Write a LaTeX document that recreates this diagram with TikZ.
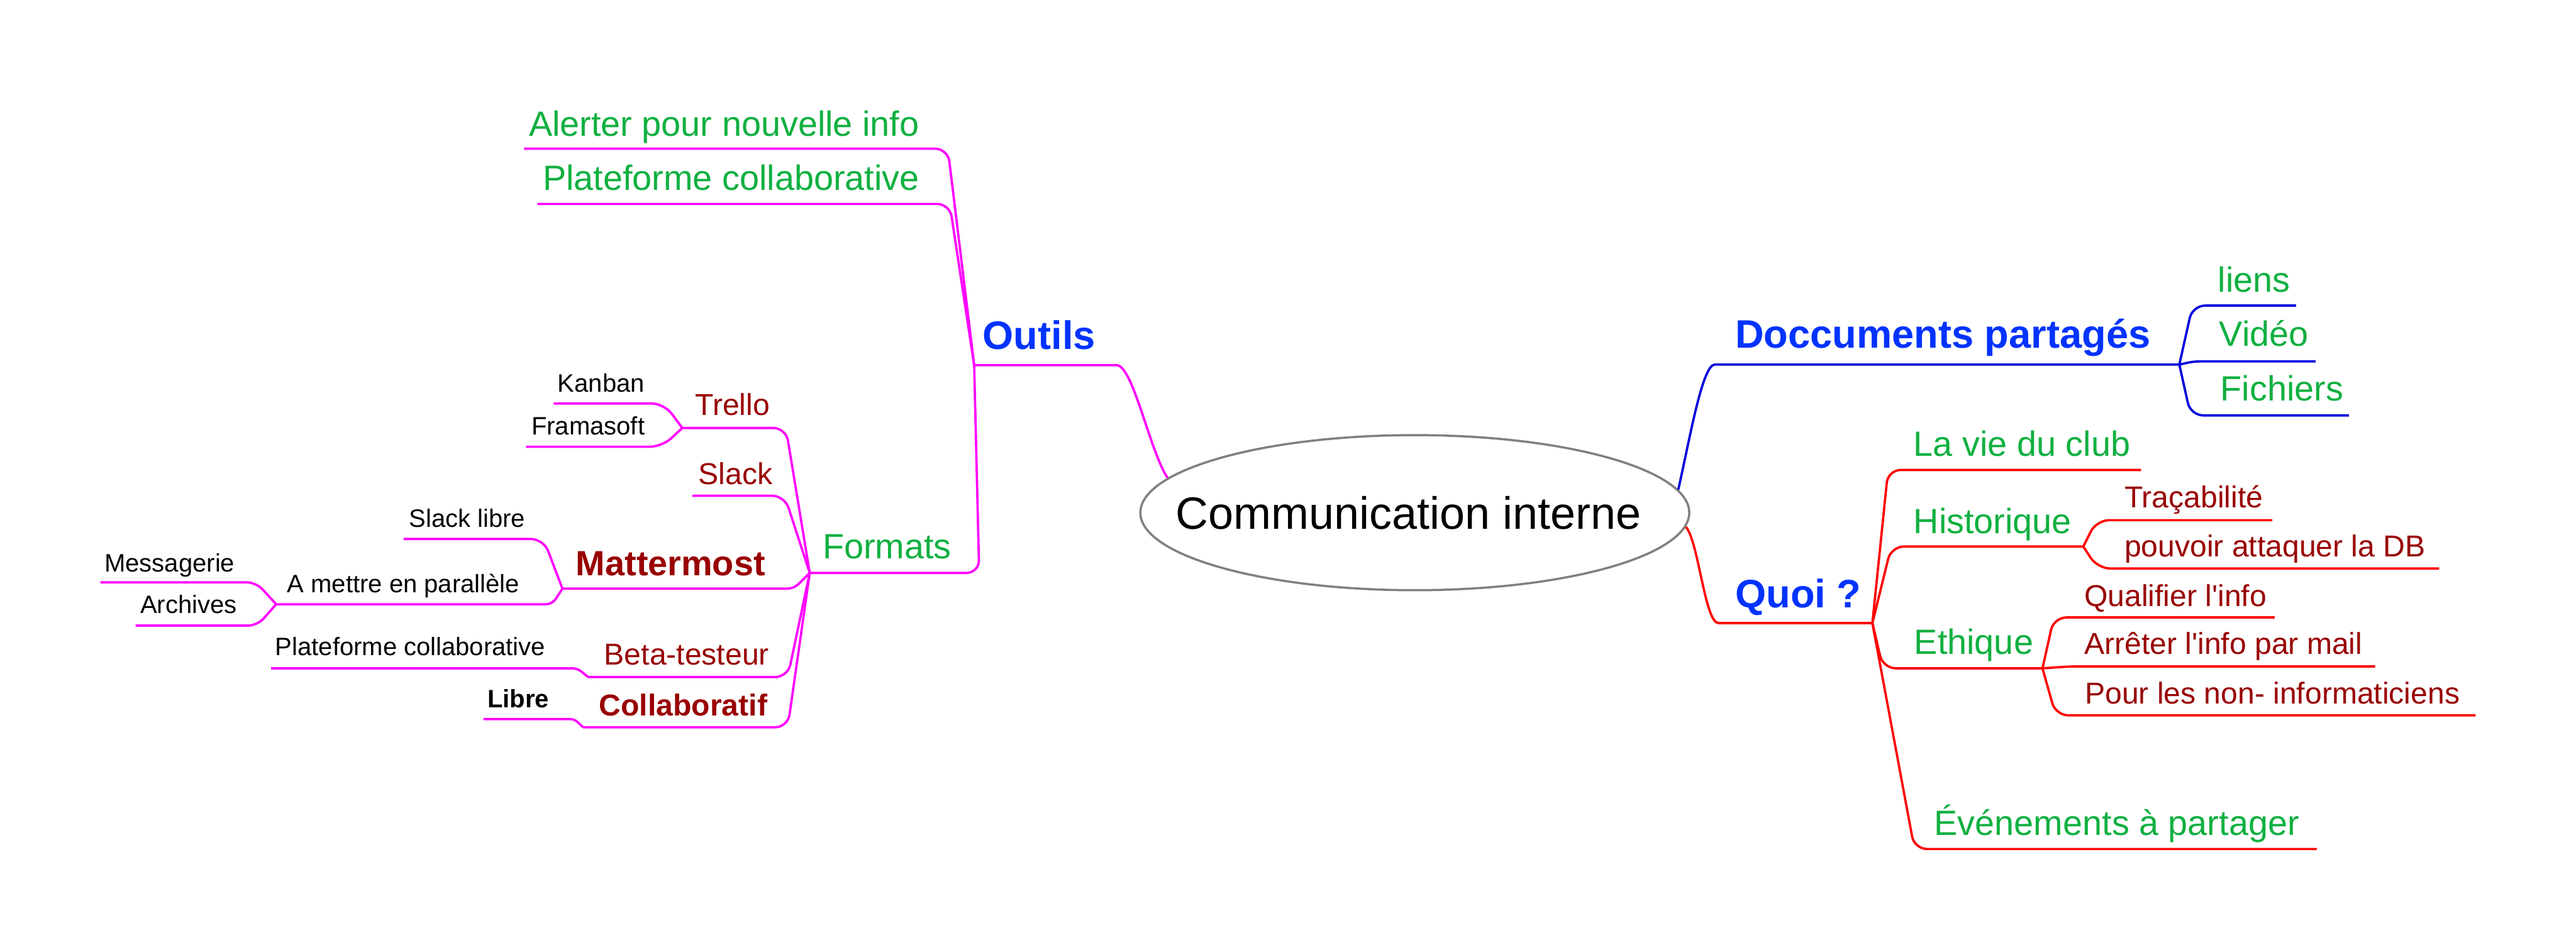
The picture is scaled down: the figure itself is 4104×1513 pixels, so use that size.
\documentclass[tikz,border=0pt]{standalone}
\usepackage{fontspec}
\setmainfont{Liberation Sans}[Ligatures=TeXOff]
\usetikzlibrary{shapes.geometric}
\definecolor{cmag}{HTML}{FF00FF}
\definecolor{cblue}{HTML}{0000DD}
\definecolor{cred}{HTML}{FF0000}
\definecolor{tgreen}{HTML}{10B040}
\definecolor{tdred}{HTML}{990000}
\definecolor{tblue}{HTML}{0033FF}
\definecolor{cgray}{HTML}{808080}
\tikzset{
  lbl/.style={inner sep=0pt, anchor=base west},
  fbig/.style={font=\fontsize{18}{20}\selectfont\bfseries, text=tblue},
  fgreen/.style={font=\fontsize{15.9}{18}\selectfont, text=tgreen},
  fred/.style={font=\fontsize{13.7}{16}\selectfont, text=tdred},
  fredb/.style={font=\fontsize{13.7}{16}\selectfont\bfseries, text=tdred},
  fmm/.style={font=\fontsize{15.9}{18}\selectfont\bfseries, text=tdred},
  fblack/.style={font=\fontsize{11.4}{13}\selectfont, text=black},
  fblackb/.style={font=\fontsize{11.4}{13}\selectfont\bfseries, text=black},
  conn/.style={line width=1.05pt, rounded corners=0.2cm, line join=round},
  mag/.style={conn, draw=cmag},
  blu/.style={conn, draw=cblue},
  rd/.style={conn, draw=cred},
}
\begin{document}
\begin{tikzpicture}[x=0.01cm,y=-0.01cm]
\fill[white] (0,0) rectangle (4104,1513);
\useasboundingbox (0,0) rectangle (4104,1513);

% central
\node[draw=cgray, line width=1pt, ellipse, fill=white, minimum width=8.74cm, minimum height=2.47cm, inner sep=0pt] (root) at (2254,817) {};
\node[inner sep=0pt, font=\fontsize{20.5}{24}\selectfont] (roottxt) at (2244,817) {Communication interne};

% ---------- left tree (magenta)
\coordinate (outJ) at (1552,582);
\coordinate (outB) at (1759,582);
\coordinate (outC1) at (1805,582);
\coordinate (outC2) at (1832,720);
\node[lbl,fbig] (outils) at (1565,557) {Outils};
\draw[mag] (outJ) -- (outB) .. controls (outC1) and (outC2) .. (root.172);

\node[lbl,fgreen] (alerter) at (842,217) {Alerter pour nouvelle info};
\coordinate (alA) at (835,237); \coordinate (alB) at (1510,237);
\draw[mag] (alA) -- (alB) -- (outJ);

\node[lbl,fgreen] (plat1) at (864,303) {Plateforme collaborative};
\coordinate (plA) at (856,325); \coordinate (plB) at (1513,325);
\draw[mag] (plA) -- (plB) -- (outJ);

\node[lbl,fgreen] (formats) at (1310,890) {Formats};
\coordinate (formJ) at (1290,913); \coordinate (formB) at (1560,913);
\draw[mag] (formJ) -- (formB) -- (outJ);

\node[lbl,fred] (trello) at (1107,662) {Trello};
\coordinate (trJ) at (1087,682); \coordinate (trB) at (1252,682);
\draw[mag] (trJ) -- (trB) -- (formJ);

\node[lbl,fblack] (kanban) at (888,625) {Kanban};
\coordinate (kaA) at (882,643); \coordinate (kaB) at (1058,643);
\draw[mag] (kaA) -- (kaB) -- (trJ);

\node[lbl,fblack] (framasoft) at (846,693) {Framasoft};
\coordinate (frA) at (838,712); \coordinate (frB) at (1055,712);
\draw[mag] (frA) -- (frB) -- (trJ);

\node[lbl,fred] (slack) at (1112,772) {Slack};
\coordinate (slA) at (1103,790); \coordinate (slB) at (1250,790);
\draw[mag] (slA) -- (slB) -- (formJ);

\node[lbl,fmm] (mattermost) at (917,917) {Mattermost};
\coordinate (mmJ) at (896,938); \coordinate (mmB) at (1265,938);
\draw[mag, rounded corners=0.1cm] (mmJ) -- (mmB) -- (formJ);

\node[lbl,fblack] (slacklibre) at (651,840) {Slack libre};
\coordinate (sgA) at (643,859); \coordinate (sgB) at (866,859);
\draw[mag] (sgA) -- (sgB) -- (mmJ);

\node[lbl,fblack] (amettre) at (457,944) {A mettre en parallèle};
\coordinate (amJ) at (440,963); \coordinate (amB) at (880,963);
\draw[mag, rounded corners=0.1cm] (amJ) -- (amB) -- (mmJ);

\node[lbl,fblack] (messagerie) at (166,911) {Messagerie};
\coordinate (meA) at (160,928); \coordinate (meB) at (408,928);
\draw[mag, rounded corners=0.15cm] (meA) -- (meB) -- (amJ);

\node[lbl,fblack] (archives) at (223,977) {Archives};
\coordinate (arA) at (216,997); \coordinate (arB) at (410,997);
\draw[mag, rounded corners=0.15cm] (arA) -- (arB) -- (amJ);

\node[lbl,fred] (beta) at (962,1060) {Beta-testeur};
\coordinate (btJ) at (937,1079); \coordinate (btB) at (1255,1079);
\draw[mag] (btJ) -- (btB) -- (formJ);

\node[lbl,fblack] (plat2) at (438,1045) {Plateforme collaborative};
\coordinate (p2A) at (432,1065); \coordinate (p2B) at (920,1065);
\draw[mag, rounded corners=0.08cm] (p2A) -- (p2B) -- (btJ);

\node[lbl,fredb] (collab) at (954,1141) {Collaboratif};
\coordinate (coJ) at (929,1159); \coordinate (coB) at (1255,1159);
\draw[mag] (coJ) -- (coB) -- (formJ);

\node[lbl,fblackb] (libre) at (776,1128) {Libre};
\coordinate (liA) at (770,1146); \coordinate (liB) at (915,1146);
\draw[mag, rounded corners=0.06cm] (liA) -- (liB) -- (coJ);

% ---------- right tree: documents (blue)
\node[lbl,fbig] (doc) at (2764,555) {Doccuments partagés};
\coordinate (docJ) at (3472,581); \coordinate (docB) at (2752,581);
\coordinate (docC1) at (2712,581); \coordinate (docC2) at (2692,700);
\draw[blu] (docJ) -- (docB) .. controls (docC1) and (docC2) .. (root.5);

\node[lbl,fgreen] (liens) at (3533,465) {liens};
\coordinate (lnA) at (3658,487); \coordinate (lnB) at (3493,487);
\draw[blu] (lnA) -- (lnB) -- (docJ);

\node[lbl,fgreen] (video) at (3535,552) {Vidéo};
\coordinate (viA) at (3689,576); \coordinate (viB) at (3495,576);
\draw[blu, rounded corners=0.08cm] (viA) -- (viB) -- (docJ);

\node[lbl,fgreen] (fichiers) at (3537,639) {Fichiers};
\coordinate (fiA) at (3742,662); \coordinate (fiB) at (3490,662);
\draw[blu] (fiA) -- (fiB) -- (docJ);

% ---------- right tree: quoi (red)
\node[lbl,fbig] (quoi) at (2764,968) {Quoi ?};
\coordinate (quJ) at (2983,993); \coordinate (quB) at (2758,993);
\coordinate (quC1) at (2716,993); \coordinate (quC2) at (2706,862);
\draw[rd] (quJ) -- (quB) .. controls (quC1) and (quC2) .. (root.-3);

\node[lbl,fgreen] (vie) at (3048,727) {La vie du club};
\coordinate (vcA) at (3411,749); \coordinate (vcB) at (3008,749);
\draw[rd] (vcA) -- (vcB) -- (quJ);

\node[lbl,fgreen] (hist) at (3048,850) {Historique};
\coordinate (hiJ) at (3319,871); \coordinate (hiB) at (3013,871);
\draw[rd] (hiJ) -- (hiB) -- (quJ);

\node[lbl,fred] (trac) at (3384,809) {Traçabilité};
\coordinate (taA) at (3620,829); \coordinate (taB) at (3340,829);
\draw[rd] (taA) -- (taB) -- (hiJ);

\node[lbl,fred] (db) at (3384,887) {pouvoir attaquer la DB};
\coordinate (dbA) at (3886,906); \coordinate (dbB) at (3342,906);
\draw[rd] (dbA) -- (dbB) -- (hiJ);

\node[lbl,fgreen] (eth) at (3049,1043) {Ethique};
\coordinate (etJ) at (3254,1065); \coordinate (etB) at (3000,1065);
\draw[rd] (etJ) -- (etB) -- (quJ);

\node[lbl,fred] (qual) at (3320,966) {Qualifier l'info};
\coordinate (qaA) at (3624,984); \coordinate (qaB) at (3272,984);
\draw[rd] (qaA) -- (qaB) -- (etJ);

\node[lbl,fred] (arr) at (3320,1043) {Arrêter l'info par mail};
\coordinate (rrA) at (3784,1062); \coordinate (rrB) at (3300,1062);
\draw[rd, rounded corners=0.1cm] (rrA) -- (rrB) -- (etJ);

\node[lbl,fred] (pour) at (3321,1122) {Pour les non- informaticiens};
\coordinate (poA) at (3944,1140); \coordinate (poB) at (3275,1140);
\draw[rd] (poA) -- (poB) -- (etJ);

\node[lbl,fgreen] (evt) at (3081,1331) {Événements à partager};
\coordinate (evA) at (3691,1353); \coordinate (evB) at (3050,1353);
\draw[rd] (evA) -- (evB) -- (quJ);
\end{tikzpicture}
\end{document}
